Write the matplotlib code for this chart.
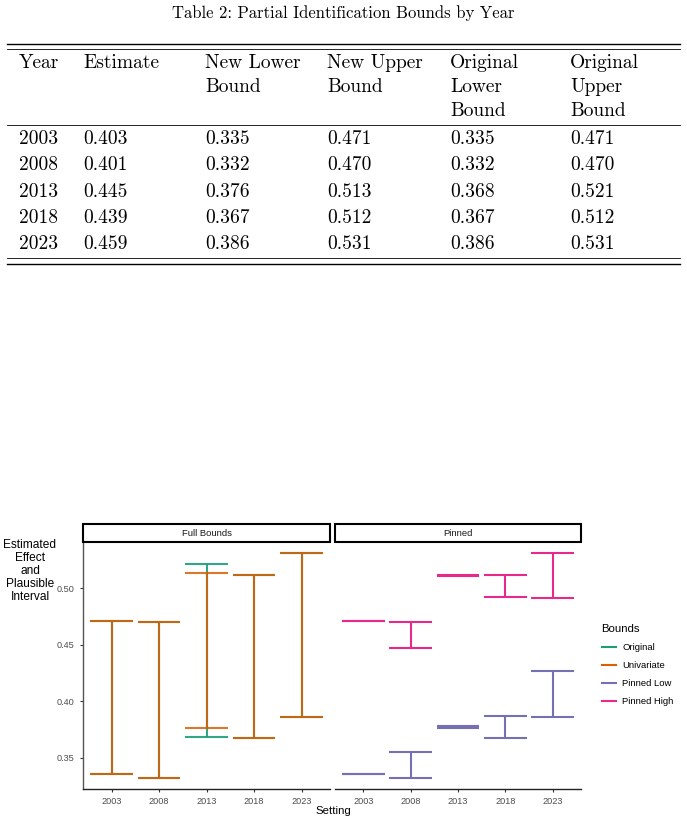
import matplotlib
matplotlib.use("Agg")
import matplotlib.pyplot as plt
from matplotlib.lines import Line2D
from matplotlib.patches import Rectangle

# table data
col_heads = ["Year", "Estimate", "New Lower\nBound", "New Upper\nBound",
             "Original\nLower\nBound", "Original\nUpper\nBound"]
years = ["2003", "2008", "2013", "2018", "2023"]
estimate = [0.403, 0.401, 0.445, 0.439, 0.459]
new_lower = [0.335, 0.332, 0.376, 0.367, 0.386]
new_upper = [0.471, 0.470, 0.513, 0.512, 0.531]
orig_lower = [0.335, 0.332, 0.368, 0.367, 0.386]
orig_upper = [0.471, 0.470, 0.521, 0.512, 0.531]

# pinned bounds
low_lo = [0.335, 0.332, 0.3765, 0.367, 0.386]
low_hi = [0.335, 0.355, 0.3775, 0.387, 0.427]
high_lo = [0.471, 0.447, 0.511, 0.492, 0.491]
high_hi = [0.471, 0.470, 0.512, 0.512, 0.531]

bound_names = ["Original", "Univariate", "Pinned Low", "Pinned High"]
colors = ["#1B9E77", "#D95F02", "#7570B3", "#E7298A"]

W, H = 687, 824
fig = plt.figure(figsize=(W / 100, H / 100), dpi=100)


def fx(px):
    return px / W


def fy(py):
    return 1 - py / H


# ---------- table ----------
serif = "cmr10"
fig.text(fx(343), fy(18), "Table 2: Partial Identification Bounds by Year",
         ha="center", va="baseline", family=serif, fontsize=12)

for y, lw in [(44, 1.0), (49, 0.6), (125, 0.6), (258, 0.6), (263.5, 1.0)]:
    fig.add_artist(Line2D([fx(7), fx(680)], [fy(y), fy(y)], color="black", lw=lw))

col_x = [19, 83, 205, 327, 450, 570]
for cx, head in zip(col_x, col_heads):
    for i, line in enumerate(head.split("\n")):
        fig.text(fx(cx), fy(68.5 + 23.5 * i), line, ha="left", va="baseline",
                 family=serif, fontsize=14)

rows = list(zip(years, estimate, new_lower, new_upper, orig_lower, orig_upper))
for r, row in enumerate(rows):
    yb = 144 + 26.3 * r
    for cx, v in zip(col_x, row):
        s = v if isinstance(v, str) else f"{v:.3f}"
        fig.text(fx(cx), fy(yb), s, ha="left", va="baseline", family=serif, fontsize=14)

# ---------- chart ----------
sans = "Liberation Sans"
top, bot = 542, 789
panels = [(83, 330, "Full Bounds"), (335, 581, "Pinned")]
axes = []
for left, right, title in panels:
    ax = fig.add_axes([fx(left), fy(bot), (right - left) / W, (bot - top) / H])
    ax.set_xlim(0.4, 5.6)
    ax.set_ylim(0.3221, 0.5409)
    ax.set_xticks(range(1, 6))
    ax.set_xticklabels(years)
    for s in ["top", "right"]:
        ax.spines[s].set_visible(False)
    ax.spines["bottom"].set_color("#222222")
    ax.spines["left"].set_color("#555555")
    ax.spines["bottom"].set_linewidth(1.0)
    ax.spines["left"].set_linewidth(1.0)
    ax.tick_params(labelsize=6.6, labelcolor="#4D4D4D", color="#333333", length=2.5, width=0.8)
    for lab in ax.get_xticklabels() + ax.get_yticklabels():
        lab.set_family(sans)
    ax.patch.set_alpha(0)
    # strip
    fig.add_artist(Rectangle((fx(left), fy(542)), (right - left) / W, (542 - 523.5) / H,
                             transform=fig.transFigure, facecolor="white",
                             edgecolor="black", lw=1.5))
    fig.text(fx((left + right) / 2), fy(533), title, ha="center", va="center",
             family=sans, fontsize=6.8, color="#1A1A1A")
    axes.append(ax)

ax1, ax2 = axes
ax1.set_yticks([0.35, 0.40, 0.45, 0.50])
ax1.set_yticklabels(["0.35", "0.40", "0.45", "0.50"])
for lab in ax1.get_yticklabels():
    lab.set_family(sans)
ax2.spines["left"].set_visible(False)
ax2.set_yticks([])

xs = list(range(1, 6))


def errbar(ax, lo, hi, color, alpha=1.0):
    for x, a, b in zip(xs, lo, hi):
        ax.vlines(x, a, b, color=color, lw=1.5, alpha=alpha, capstyle="butt")
        ax.hlines([a, b], x - 0.45, x + 0.45, color=color, lw=1.5, alpha=alpha,
                  capstyle="butt")


errbar(ax1, orig_lower, orig_upper, colors[0], 0.9)
errbar(ax1, new_lower, new_upper, colors[1], 0.85)
errbar(ax2, low_lo, low_hi, colors[2])
errbar(ax2, high_lo, high_hi, colors[3])

fig.text(fx(30), fy(571), "Estimated\nEffect\nand\nPlausible\nInterval", ha="center",
         va="center", multialignment="center", family=sans, fontsize=8.6, linespacing=1.1)
fig.text(fx(333), fy(811), "Setting", ha="center", va="center", family=sans, fontsize=8.2)

handles = [Line2D([], [], color=c, lw=1.5) for c in colors]
leg = fig.legend(handles, bound_names, title="Bounds", loc="upper left",
                 bbox_to_anchor=(fx(593), fy(616)), frameon=False,
                 prop={"family": sans, "size": 6.8}, handlelength=1.5,
                 labelspacing=0.95, handletextpad=0.7, alignment="left")
leg.get_title().set_family(sans)
leg.get_title().set_fontsize(8.2)

fig.savefig("out.png", dpi=100)
plt.close(fig)
